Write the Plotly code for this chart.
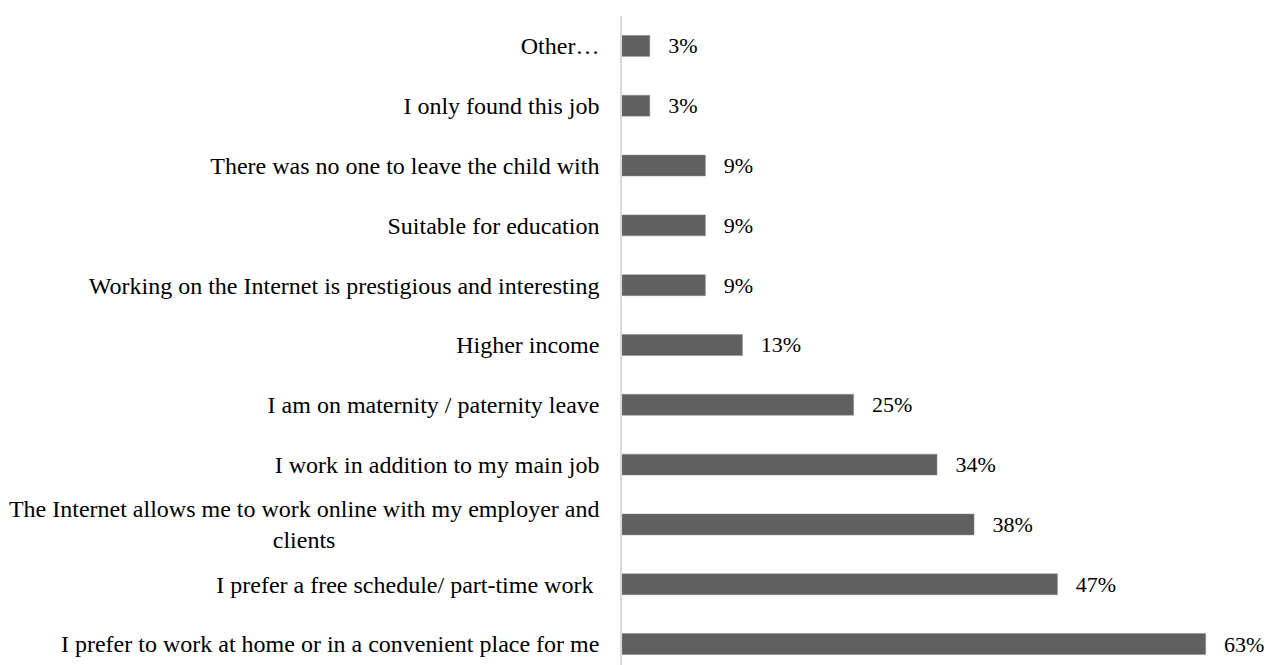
import plotly.graph_objects as go

categories = [
    "I prefer to work at home or in a convenient place for me",
    "I prefer a free schedule/ part-time work\u00a0",
    "The Internet allows me to work online with my employer and<br>clients" + "\u00a0" * 44,
    "I work in addition to my main job",
    "I am on maternity / paternity leave",
    "Higher income",
    "Working on the Internet is prestigious and interesting",
    "Suitable for education",
    "There was no one to leave the child with",
    "I only found this job",
    "Other\u2026",
]
values = [63, 47, 38, 34, 25, 13, 9, 9, 9, 3, 3]

fig = go.Figure(go.Bar(
    y=categories,
    x=values,
    orientation="h",
    width=0.35,
    marker=dict(color="#606060", line=dict(color="#8a8a8a", width=0.5)),
    texttemplate="\u00a0\u00a0\u2009%{x}%",
    textposition="outside",
    constraintext="none",
    textfont=dict(family="Liberation Serif", size=22, color="#000000"),
    cliponaxis=False,
))

fig.update_layout(
    width=1266, height=665,
    margin=dict(l=622, r=14, t=16, b=0),
    paper_bgcolor="white", plot_bgcolor="white",
    showlegend=False,
    font=dict(family="Liberation Serif", size=24, color="#000000"),
)
fig.update_xaxes(range=[0, 68], visible=False, showgrid=False)
fig.update_yaxes(
    type="category",
    range=[-0.35, 10.5],
    showline=True, linecolor="#d9d9d9", linewidth=1.5,
    showgrid=False, ticks="", ticklabelstandoff=16,
    tickfont=dict(family="Liberation Serif", size=24, color="#000000"),
    automargin=False,
)
fig.write_html(
    "out.html",
    config={"displayModeBar": False},
    post_script="document.body.style.margin='0';document.body.style.overflow='hidden';",
)
